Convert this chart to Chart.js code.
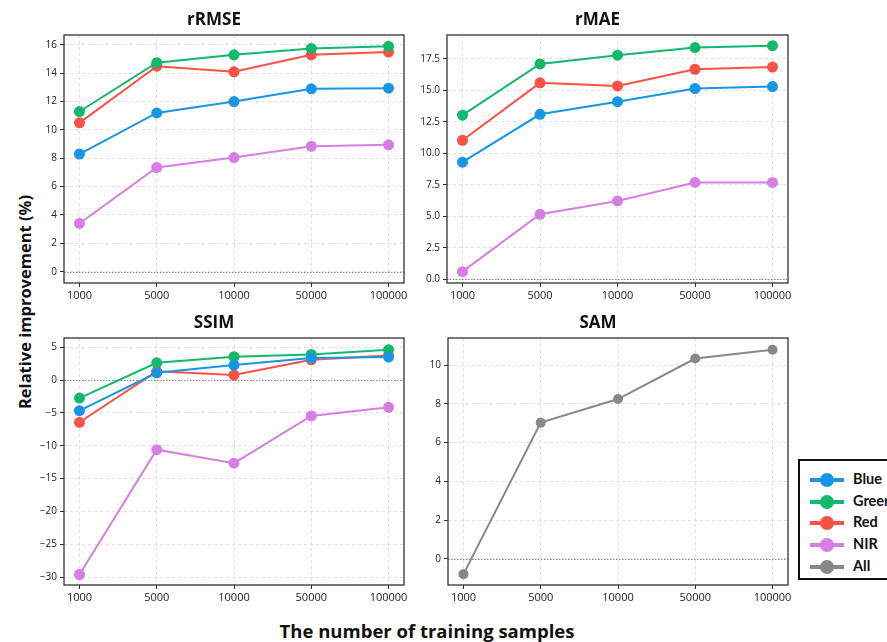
<!DOCTYPE html>
<html>
<head>
<meta charset="utf-8">
<script src="https://cdn.jsdelivr.net/npm/chart.js@4"></script>
<style>
  html, body { margin: 0; padding: 0; background: #fff; overflow: hidden; }
  body { width: 887px; height: 642px; position: relative; font-family: "Open Sans", sans-serif; }
  canvas { position: absolute; }
  .ylab {
    position: absolute; left: 24px; top: 302px;
    transform: translate(-50%, -50%) rotate(-90deg);
    font-weight: bold; font-size: 16.5px; white-space: nowrap; color: #111;
  }
  .xlab {
    position: absolute; left: 427px; top: 630px;
    transform: translate(-50%, -50%);
    font-weight: bold; font-size: 18.5px; white-space: nowrap; color: #111;
  }
  #legend {
    position: absolute; left: 798px; top: 459px; width: 110px; height: 121px;
    border: 2px solid #111; box-sizing: border-box; background: #fff;
  }
  .item { position: absolute; left: 10px; height: 20px; width: 100px; }
  .item .ln { position: absolute; left: 0; top: 8px; width: 34px; height: 4px; }
  .item .dot { position: absolute; left: 10px; top: 3px; width: 14px; height: 14px; border-radius: 50%; }
  .item .tx { position: absolute; left: 43px; top: 0px; font-family: Lato, sans-serif; font-weight: bold; font-size: 14.5px; color: #111; }
</style>
</head>
<body>
<div class="ylab">Relative improvement (%)</div>
<div class="xlab">The number of training samples</div>
<div id="legend"></div>

<script>
// sample sizes on the x axis
const samples = ["1000", "5000", "10000", "50000", "100000"];

// rRMSE
const rmseBlue  = [8.3, 11.2, 12.0, 12.9, 12.95];
const rmseGreen = [11.3, 14.75, 15.3, 15.75, 15.9];
const rmseRed   = [10.5, 14.5, 14.1, 15.3, 15.5];
const rmseNir   = [3.4, 7.35, 8.05, 8.85, 8.95];

// rMAE
const maeBlue  = [9.3, 13.1, 14.1, 15.15, 15.3];
const maeGreen = [13.03, 17.1, 17.8, 18.4, 18.55];
const maeRed   = [11.04, 15.6, 15.35, 16.68, 16.85];
const maeNir   = [0.6, 5.16, 6.22, 7.69, 7.69];

// SSIM
const ssimBlue  = [-4.66, 1.11, 2.28, 3.34, 3.5];
const ssimGreen = [-2.74, 2.63, 3.55, 3.9, 4.6];
const ssimRed   = [-6.43, 1.32, 0.76, 3.09, 3.75];
const ssimNir   = [-29.6, -10.6, -12.66, -5.47, -4.15];

// SAM (all bands)
const samAll = [-0.79, 7.03, 8.25, 10.34, 10.79];

const rmseTicks = [0, 2, 4, 6, 8, 10, 12, 14, 16];
const maeTicks  = [0, 2.5, 5, 7.5, 10, 12.5, 15, 17.5];
const ssimTicks = [-30, -25, -20, -15, -10, -5, 0, 5];
const samTicks  = [0, 2, 4, 6, 8, 10];

const COLORS = { Blue: "#1896e6", Green: "#12b86b", Red: "#fb5246", NIR: "#d77ee4", All: "#888888" };

// zero line + full frame, like matplotlib axhline + spines
const framePlugin = {
  id: "frame",
  beforeDatasetsDraw(chart) {
    const { ctx, chartArea: a, scales: { y } } = chart;
    const y0 = y.getPixelForValue(0);
    ctx.save();
    ctx.strokeStyle = "#888";
    ctx.lineWidth = 1;
    ctx.setLineDash([1.5, 1.5]);
    ctx.beginPath();
    ctx.moveTo(a.left, Math.round(y0) + 0.5);
    ctx.lineTo(a.right, Math.round(y0) + 0.5);
    ctx.stroke();
    ctx.restore();
  },
  afterDraw(chart) {
    const { ctx, chartArea: a } = chart;
    ctx.save();
    ctx.strokeStyle = "#333";
    ctx.lineWidth = 1.3;
    ctx.strokeRect(a.left, a.top, a.right - a.left, a.bottom - a.top);
    ctx.restore();
  },
};

function series(name, values) {
  return {
    label: name,
    data: values.map((v, i) => ({ x: i, y: v })),
    borderColor: COLORS[name],
    backgroundColor: COLORS[name],
    borderWidth: 2,
    pointRadius: 5.5,
    pointHoverRadius: 5.5,
    pointBorderWidth: 0,
  };
}

const gridOpts = { color: "#dedede", tickLength: 4, tickColor: "#333", tickBorderDash: [] };
const borderOpts = { display: false, dash: [3, 3] };

function makePanel(id, box, title, datasets, yMin, yMax, yTicks, fmt) {
  const yW = 40, padR = 40, titleH = 35, xH = 24;
  const cv = document.createElement("canvas");
  cv.id = id;
  const w = box.r - box.l + yW + padR;
  const h = box.b - box.t + titleH + xH;
  cv.width = w; cv.height = h;
  cv.style.left = (box.l - yW) + "px";
  cv.style.top = (box.t - titleH) + "px";
  cv.style.width = w + "px"; cv.style.height = h + "px";
  document.body.appendChild(cv);

  new Chart(cv, {
    type: "line",
    data: { datasets },
    options: {
      responsive: false,
      animation: false,
      devicePixelRatio: 1,
      layout: { padding: { left: 0, right: padR, top: 0, bottom: 0 } },
      plugins: {
        legend: { display: false },
        tooltip: { enabled: false },
        title: {
          display: true, text: title, color: "#111",
          font: { family: "Open Sans", size: 17, weight: "bold" },
          padding: { top: 10, bottom: 4.6 },
        },
      },
      scales: {
        x: {
          type: "linear", min: -0.2, max: 4.2,
          afterBuildTicks: s => { s.ticks = samples.map((_, i) => ({ value: i })); },
          afterFit: s => { s.height = xH; },
          ticks: {
            callback: v => samples[v], color: "#222", padding: 2,
            font: { family: "Open Sans", size: 11 }, maxRotation: 0,
          },
          grid: gridOpts,
          border: borderOpts,
        },
        y: {
          min: yMin, max: yMax,
          afterBuildTicks: s => { s.ticks = yTicks.map(v => ({ value: v })); },
          afterFit: s => { s.width = yW; },
          ticks: {
            callback: fmt, color: "#222", padding: 3,
            font: { family: "Open Sans", size: 10 },
          },
          grid: gridOpts,
          border: borderOpts,
        },
      },
    },
    plugins: [framePlugin],
  });
}

const intFmt = v => (v < 0 ? "\u2212" + Math.abs(v) : String(v));
const decFmt = v => v.toFixed(1);

makePanel("rmse", { l: 64, t: 35, r: 404, b: 283 }, "rRMSE",
  [series("Blue", rmseBlue), series("Green", rmseGreen), series("Red", rmseRed), series("NIR", rmseNir)],
  -0.8, 16.7, rmseTicks, intFmt);

makePanel("mae", { l: 447, t: 35, r: 788, b: 283 }, "rMAE",
  [series("Blue", maeBlue), series("Green", maeGreen), series("Red", maeRed), series("NIR", maeNir)],
  -0.3, 19.4, maeTicks, decFmt);

makePanel("ssim", { l: 64, t: 338, r: 404, b: 585 }, "SSIM",
  [series("Blue", ssimBlue), series("Green", ssimGreen), series("Red", ssimRed), series("NIR", ssimNir)],
  -31.2, 6.4, ssimTicks, intFmt);

const samSet = series("All", samAll);
samSet.pointRadius = 5;
makePanel("sam", { l: 448, t: 338, r: 788, b: 585 }, "SAM",
  [samSet], -1.35, 11.4, samTicks, intFmt);

// legend box at lower right
const legend = document.getElementById("legend");
["Blue", "Green", "Red", "NIR", "All"].forEach((name, i) => {
  const it = document.createElement("div");
  it.className = "item";
  it.style.top = (9 + i * 21.7) + "px";
  it.innerHTML = `<div class="ln" style="background:${COLORS[name]}"></div>
    <div class="dot" style="background:${COLORS[name]}"></div>
    <div class="tx">${name}</div>`;
  legend.appendChild(it);
});
</script>
</body>
</html>
